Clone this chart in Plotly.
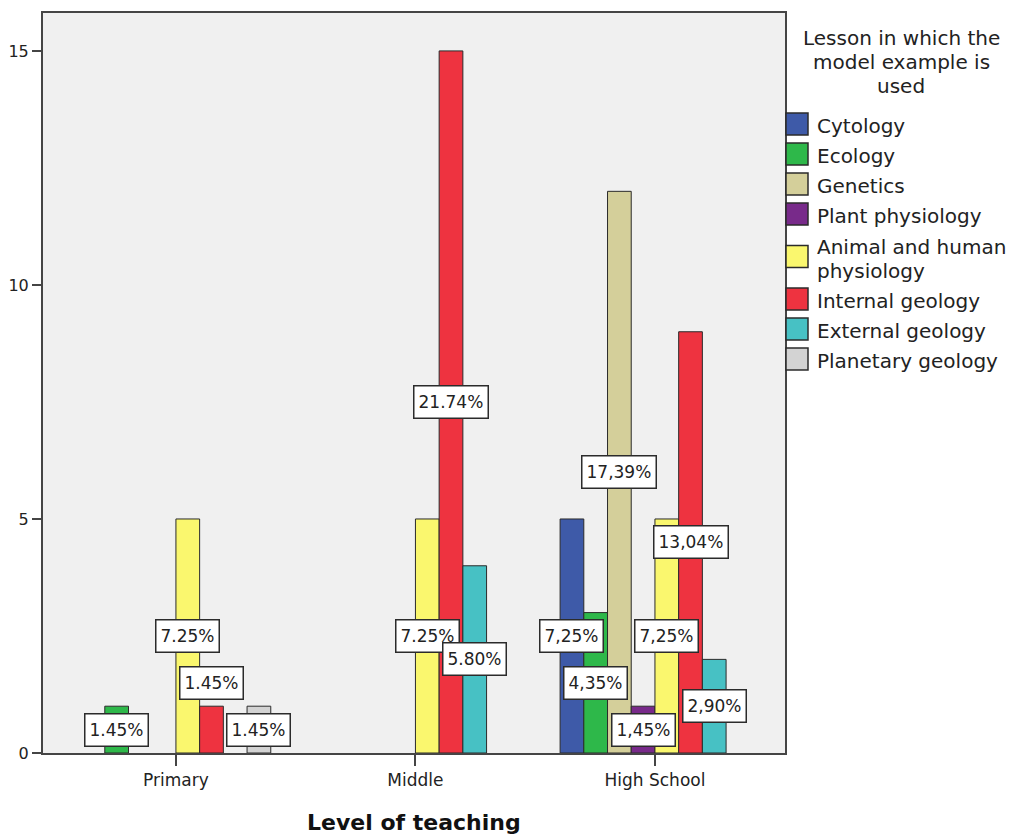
import plotly.graph_objects as go

# Datos del gráfico (conteos por nivel de enseñanza)
levels = ["Primary", "Middle", "High School"]
lessons = ["Cytology", "Ecology", "Genetics", "Plant physiology",
           "Animal and human physiology", "Internal geology",
           "External geology", "Planetary geology"]
legend_names = ["Cytology", "Ecology", "Genetics", "Plant physiology",
                "Animal and human<br>physiology", "Internal geology",
                "External geology", "Planetary geology"]

cytology = [0, 0, 5]
ecology = [1, 0, 3]
genetics = [0, 0, 12]
plant_phys = [0, 0, 1]
animal_phys = [5, 5, 5]
internal_geo = [1, 15, 9]
external_geo = [0, 4, 2]
planetary_geo = [1, 0, 0]

# etiquetas tal como aparecen (separador decimal mezclado)
pct_cytology = ["", "", "7,25%"]
pct_ecology = ["1.45%", "", "4,35%"]
pct_genetics = ["", "", "17,39%"]
pct_plant = ["", "", "1,45%"]
pct_animal = ["7.25%", "7.25%", "7,25%"]
pct_internal = ["1.45%", "21.74%", "13,04%"]
pct_external = ["", "5.80%", "2,90%"]
pct_planetary = ["1.45%", "", ""]

series = [cytology, ecology, genetics, plant_phys, animal_phys,
          internal_geo, external_geo, planetary_geo]
labels = [pct_cytology, pct_ecology, pct_genetics, pct_plant, pct_animal,
          pct_internal, pct_external, pct_planetary]
colors = ["#3E5AA8", "#2EB84A", "#D4CF9A", "#782A8A", "#FAF76E",
          "#EE3340", "#47C1C4", "#D3D3D3"]

FONT = "DejaVu Sans"
EDGE = "#2b2b2b"
AXIS = "#454545"

# area del grafico en pixeles de la ventana
PL, PR, PT, PB = 43, 785, 13, 753
WIN_W, WIN_H = 1014, 836
OFF = 8  # margen del body de la pagina


def paper_x(px):
    return (px - PL) / (PR - PL)


def paper_y(py):
    return (PB - py) / (PB - PT)


bargap = 0.208
slot = (1 - bargap) / len(lessons)

fig = go.Figure()
for name, vals, col in zip(lessons, series, colors):
    fig.add_trace(go.Bar(
        x=list(range(len(levels))),
        y=[v if v > 0 else None for v in vals],
        name=name,
        marker=dict(color=col, line=dict(color=EDGE, width=1)),
        showlegend=False,
    ))

# etiquetas de porcentaje en el centro de cada barra
nudge = {("Primary", "Internal geology"): 47}  # desplazada para no solaparse
annotations = []
for j, (name, vals, labs) in enumerate(zip(lessons, series, labels)):
    for i, lev in enumerate(levels):
        if vals[i] <= 0 or not labs[i]:
            continue
        annotations.append(dict(
            x=i + (j - (len(lessons) - 1) / 2) * slot, y=vals[i] / 2,
            xref="x", yref="y", text=labs[i], showarrow=False,
            font=dict(family=FONT, size=17, color="#222"),
            bgcolor="white", bordercolor=EDGE, borderwidth=1.5, borderpad=4,
            height=23,
            yshift=nudge.get((lev, name), 0),
        ))

# titulo del eje x
annotations.append(dict(
    x=0.5, y=paper_y(822), xref="paper", yref="paper",
    text="<b>Level of teaching</b>", showarrow=False,
    font=dict(family=FONT, size=22, color="#111"),
    xanchor="center", yanchor="middle",
))

# leyenda manual
title_lines = ["Lesson in which the", "model example is", "used"]
for k, line in enumerate(title_lines):
    annotations.append(dict(
        x=paper_x(901), y=paper_y(38 + 24 * k), xref="paper", yref="paper",
        text=line, showarrow=False, xanchor="center", yanchor="middle",
        font=dict(family=FONT, size=20, color="#222"),
    ))

shapes = []
cy = 124
for k, (lname, col) in enumerate(zip(legend_names, colors)):
    parts = lname.split("<br>")
    extra = 12.5 * (len(parts) - 1)
    if k > 0:
        cy += extra
    shapes.append(dict(
        type="rect", xref="paper", yref="paper",
        x0=paper_x(786), x1=paper_x(808),
        y0=paper_y(cy + 11), y1=paper_y(cy - 11),
        fillcolor=col, line=dict(color=EDGE, width=1.5),
    ))
    top = cy - 12 * (len(parts) - 1)
    for m, p in enumerate(parts):
        annotations.append(dict(
            x=paper_x(815), y=paper_y(top + 24 * m + 2), xref="paper", yref="paper",
            text=p, showarrow=False, xanchor="left", yanchor="middle",
            font=dict(family=FONT, size=20, color="#222"),
        ))
    cy += 30 + extra

fig.update_layout(
    width=WIN_W - OFF, height=WIN_H - OFF,
    margin=dict(l=PL - OFF, r=WIN_W - PR, t=PT - OFF, b=WIN_H - PB, pad=0),
    barmode="group", bargap=bargap, bargroupgap=0,
    plot_bgcolor="#F0F0F0", paper_bgcolor="white",
    font=dict(family=FONT, color="#222"),
    annotations=annotations, shapes=shapes,
    showlegend=False,
)
fig.update_xaxes(
    range=[-0.555, 2.543], tickvals=list(range(len(levels))), ticktext=levels,
    showline=True, linecolor=AXIS, linewidth=2, mirror=True,
    ticks="outside", ticklen=11, tickwidth=1.5, tickcolor=AXIS,
    tickfont=dict(family=FONT, size=17, color="#222"),
    showgrid=False, zeroline=False, automargin=False,
)
fig.update_yaxes(
    range=[0, 15.81], tickvals=[0, 5, 10, 15],
    showline=True, linecolor=AXIS, linewidth=2, mirror=True,
    ticks="outside", ticklen=9, tickwidth=1.5, tickcolor=AXIS,
    tickfont=dict(family=FONT, size=16, color="#222"),
    showgrid=False, zeroline=False, automargin=False,
)

fig.write_html("out.html")
